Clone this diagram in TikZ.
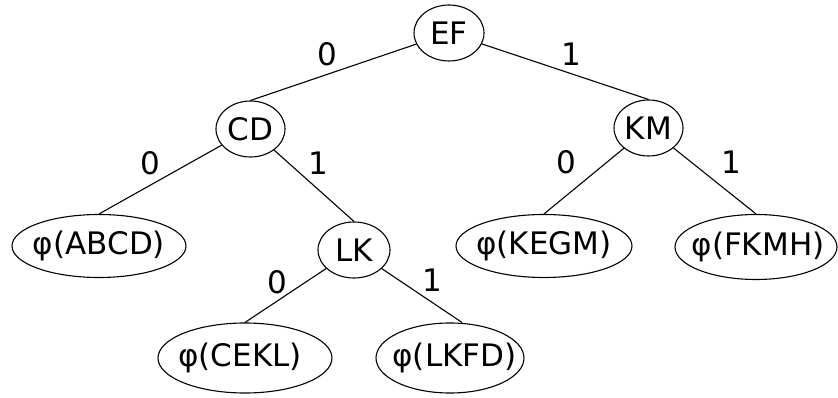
\documentclass[tikz,border=0pt]{standalone}
\usepackage{fontspec}
\setmainfont{DejaVu Sans}
\usetikzlibrary{shapes.geometric}
\newcommand{\zw}[2][0pt]{\makebox[0pt]{\kern#1\relax#2}}
\begin{document}
\begin{tikzpicture}[x=1pt,y=-1pt,
  nd/.style={draw,ellipse,inner sep=0pt,line width=1.1pt,font=\fontsize{31}{37}\selectfont},
  lbl/.style={font=\fontsize{31}{37}\selectfont,inner sep=0pt},
  edge/.style={line width=1.1pt}]
\useasboundingbox (0,0) rectangle (838,398);
\node[nd,minimum width=70pt,minimum height=56pt] (EF) at (449,33) {\zw{EF}};
\node[nd,minimum width=69pt,minimum height=56pt] (CD) at (250.5,129) {\zw{CD}};
\node[nd,minimum width=69pt,minimum height=56pt] (KM) at (648.5,128) {\zw{KM}};
\node[nd,minimum width=72pt,minimum height=56pt] (LK) at (354,250) {\zw{LK}};
\node[nd,minimum width=174pt,minimum height=63pt] (ABCD) at (99,246) {\zw{φ(ABCD)}};
\node[nd,minimum width=176pt,minimum height=63pt] (KEGM) at (544,246) {\zw{φ(KEGM)}};
\node[nd,minimum width=162pt,minimum height=65pt] (FKMH) at (756,247) {\zw[4pt]{φ(FKMH)}};
\node[nd,minimum width=174pt,minimum height=70pt] (CEKL) at (245,358) {\zw[-10pt]{φ(CEKL)}};
\node[nd,minimum width=148pt,minimum height=70pt] (LKFD) at (450,358) {\zw[9pt]{φ(LKFD)}};
\draw[edge] (EF) -- (CD.north);
\draw[edge] (EF) -- (KM.north);
\draw[edge] (CD) -- (ABCD.north);
\draw[edge] (CD) -- (LK.north);
\draw[edge] (KM) -- (KEGM.north);
\draw[edge] (KM) -- (FKMH.north);
\draw[edge] (LK) -- (CEKL.north);
\draw[edge] (LK) -- ([xshift=12pt]LKFD.north);
\node[lbl] (l1) at (327,54) {0};
\node[lbl] (l2) at (571,54) {1};
\node[lbl] (l3) at (150,163) {0};
\node[lbl] (l4) at (318,163) {1};
\node[lbl] (l5) at (566,162) {0};
\node[lbl] (l6) at (731,162) {1};
\node[lbl] (l7) at (277,282) {0};
\node[lbl] (l8) at (432,280) {1};
\end{tikzpicture}
\end{document}
